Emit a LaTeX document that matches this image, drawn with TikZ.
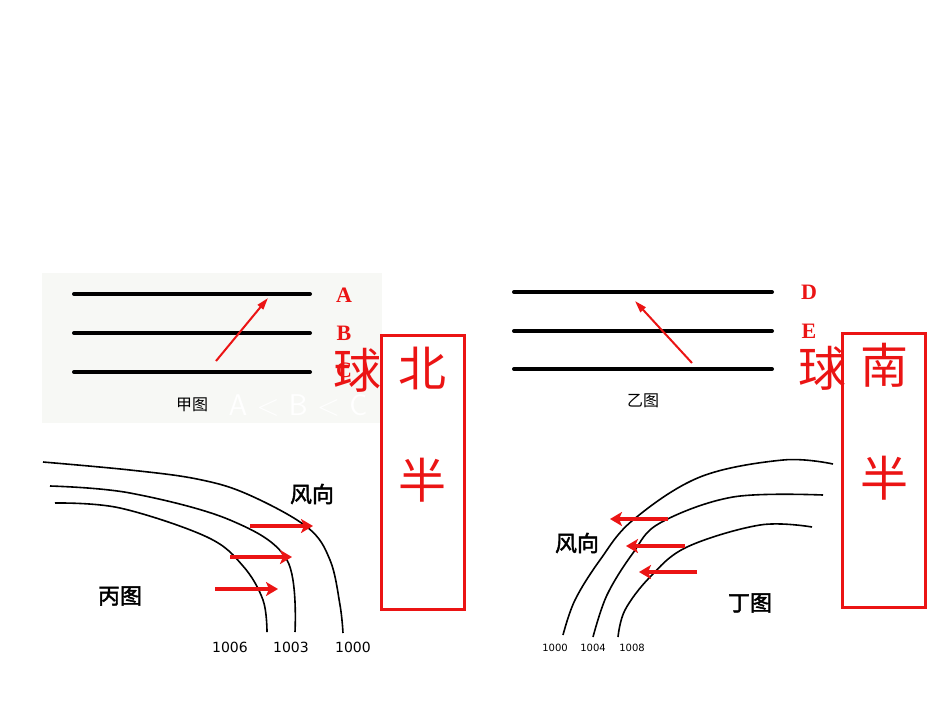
\documentclass[tikz,border=0pt]{standalone}
\usepackage{fontspec}
\setmainfont{Liberation Serif}
\newfontfamily\cjk{Noto Sans CJK SC}
\newfontfamily\cjkb[FakeBold=2]{Noto Sans CJK SC}
\newfontfamily\lab{DejaVu Sans}
\usetikzlibrary{arrows.meta}
\definecolor{rd}{RGB}{235,20,20}
\definecolor{bgg}{RGB}{247,248,245}
\begin{document}
\begin{tikzpicture}[x=1pt,y=-1pt,
  iso/.style={line width=4pt,line cap=round},
  cont/.style={line width=1.6pt},
  wind/.style={rd,line width=4pt,-{Stealth[length=12pt,width=14pt,inset=3pt]}},
  thin/.style={rd,line width=2pt,-{Triangle[length=12pt,width=7pt]}},
  box/.style={draw=rd,line width=2.5pt,minimum width=83pt,anchor=north west,inner sep=0pt},
  big/.style={rd,font=\cjk\fontsize{48}{48}\selectfont,inner sep=0pt},
  let/.style={rd,font=\bfseries\fontsize{22}{22}\selectfont,inner sep=0pt},
  captxt/.style={font=\cjk\fontsize{16}{16}\selectfont,inner sep=0pt},
  capb/.style={font=\cjkb\fontsize{22}{22}\selectfont,inner sep=0pt},
  num/.style={font=\lab\fontsize{14}{14}\selectfont,inner sep=0pt},
  nums/.style={font=\lab\fontsize{10}{10}\selectfont,inner sep=0pt}]
\useasboundingbox (0,0) rectangle (950,713);
\fill[white] (0,0) rectangle (950,713);
% Jia
\fill[bgg] (42,273) rectangle (382,423);
\coordinate (j1a) at (74,294); \coordinate (j1b) at (310,294);
\coordinate (j2a) at (74,333); \coordinate (j2b) at (310,333);
\coordinate (j3a) at (74,372); \coordinate (j3b) at (310,372);
\draw[iso] (j1a)--(j1b); \draw[iso] (j2a)--(j2b); \draw[iso] (j3a)--(j3b);
\coordinate (ja0) at (216,361); \coordinate (ja1) at (268,298);
\draw[thin] (ja0)--(ja1);
\node[let] (A) at (344,295) {A};
\node[let] (B) at (344,333) {B};
\node[let] (C) at (344,370) {C};
\node[captxt] (jia) at (192,405) {甲图};
\node[white,font=\sffamily\fontsize{30}{30}\selectfont,inner sep=0pt] (abc) at (298,405) {A < B < C};
\node[box,minimum height=274pt] (nb) at (380,334) {};
\node[big] (qiu1) at (357,370) {球};
\node[big] (bei) at (422,368) {北};
\node[big] (ban1) at (422,480) {半};
% Yi
\coordinate (y1a) at (514,292); \coordinate (y1b) at (772,292);
\coordinate (y2a) at (514,331); \coordinate (y2b) at (772,331);
\coordinate (y3a) at (514,369); \coordinate (y3b) at (772,369);
\draw[iso] (y1a)--(y1b); \draw[iso] (y2a)--(y2b); \draw[iso] (y3a)--(y3b);
\coordinate (ya0) at (692,363); \coordinate (ya1) at (635,301);
\draw[thin] (ya0)--(ya1);
\node[let] (D) at (809,292) {D};
\node[let] (E) at (809,331) {E};
\node[captxt] (yi) at (643,401) {乙图};
\node[box,minimum height=274pt] (nn) at (841,332) {};
\node[big] (qiu2) at (822,368) {球};
\node[big] (nan) at (884,365) {南};
\node[big] (ban2) at (884,478) {半};
% Bing
\draw[cont] plot[smooth,tension=0.6] coordinates {(43,462) (130,470) (197,479) (247,494) (307,527) (330,560) (340,605) (343,633)};
\draw[cont] plot[smooth,tension=0.6] coordinates {(50,486) (130,493) (230,520) (287,560) (295,632)};
\draw[cont] plot[smooth,tension=0.6] coordinates {(55,503) (120,508) (207,537) (243,566) (263,600) (267,632)};
\node[num] (p1) at (230,647) {1006};
\node[num] (p2) at (291,647) {1003};
\node[num] (p3) at (353,647) {1000};
\coordinate (b1a) at (250,526); \coordinate (b1b) at (313,526);
\coordinate (b2a) at (230,557); \coordinate (b2b) at (292,557);
\coordinate (b3a) at (215,589); \coordinate (b3b) at (278,589);
\draw[wind] (b1a)--(b1b); \draw[wind] (b2a)--(b2b); \draw[wind] (b3a)--(b3b);
\node[capb] (fx1) at (312,494) {风向};
\node[capb] (bing) at (120,596) {丙图};
% Ding
\draw[cont] plot[smooth,tension=0.6] coordinates {(833,464) (783,460) (700,477) (633,520) (600,560) (575,600) (563,635)};
\draw[cont] plot[smooth,tension=0.6] coordinates {(823,495) (733,497) (660,523) (633,553) (607,595) (593,637)};
\draw[cont] plot[smooth,tension=0.6] coordinates {(812,527) (760,525) (687,547) (650,577) (625,610) (618,637)};
\node[nums] (q1) at (555,648) {1000};
\node[nums] (q2) at (593,648) {1004};
\node[nums] (q3) at (632,648) {1008};
\coordinate (d1a) at (668,519); \coordinate (d1b) at (610,519);
\coordinate (d2a) at (685,546); \coordinate (d2b) at (626,546);
\coordinate (d3a) at (697,572); \coordinate (d3b) at (639,572);
\draw[wind] (d1a)--(d1b); \draw[wind] (d2a)--(d2b); \draw[wind] (d3a)--(d3b);
\node[capb] (fx2) at (577,543) {风向};
\node[capb] (ding) at (750,603) {丁图};
\end{tikzpicture}
\end{document}
